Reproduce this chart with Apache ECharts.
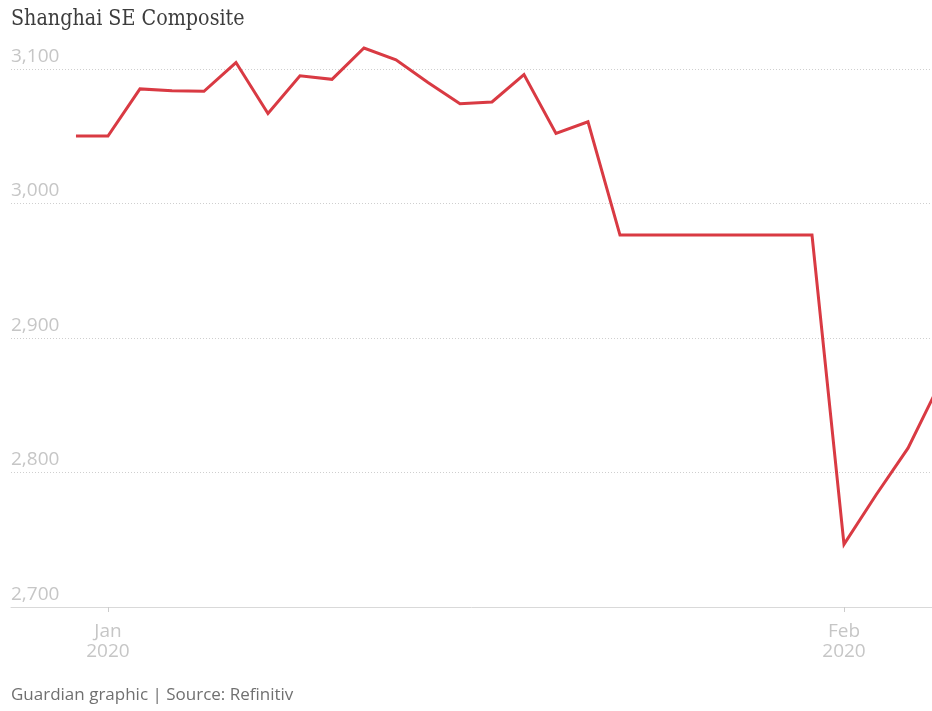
<!DOCTYPE html>
<html>
<head>
<meta charset="utf-8">
<title>Shanghai SE Composite</title>
<script src="https://cdn.jsdelivr.net/npm/echarts@6/dist/echarts.min.js"></script>
<style>
  html, body { margin: 0; padding: 0; background: #fff; overflow: hidden; }
  #chart { width: 932px; height: 711px; }
</style>
</head>
<body>
<div id="chart"></div>
<script>
// Trading-day dates (weekdays; holidays carry the previous close)
const dates = [
  '2019-12-31', '2020-01-01', '2020-01-02', '2020-01-03',
  '2020-01-06', '2020-01-07', '2020-01-08', '2020-01-09', '2020-01-10',
  '2020-01-13', '2020-01-14', '2020-01-15', '2020-01-16', '2020-01-17',
  '2020-01-20', '2020-01-21', '2020-01-22', '2020-01-23', '2020-01-24',
  '2020-01-27', '2020-01-28', '2020-01-29', '2020-01-30', '2020-01-31',
  '2020-02-03', '2020-02-04', '2020-02-05', '2020-02-06'
];

// Index close
const closes = [
  3050.1, 3050.1, 3085.2, 3083.8,
  3083.4, 3104.8, 3066.9, 3094.9, 3092.3,
  3115.6, 3106.8, 3090.0, 3074.1, 3075.5,
  3095.8, 3052.1, 3060.8, 2976.5, 2976.5,
  2976.5, 2976.5, 2976.5, 2976.5, 2976.5,
  2746.6, 2783.3, 2818.1, 2866.5
];

// Month ticks on the x axis
const monthTickDates = ['2020-01-01', '2020-02-03'];
const monthTickLabels = ['Jan\n2020', 'Feb\n2020'];

// Y axis ticks
const yTicks = [2700, 2800, 2900, 3000, 3100];

const seriesData = dates.map((d, i) => [i, closes[i]]);
const tickIdx = monthTickDates.map(d => dates.indexOf(d));

const chart = echarts.init(document.getElementById('chart'), null, { renderer: 'canvas' });

const labelGrey = '#c6c6c6';

chart.setOption({
  animation: false,
  backgroundColor: '#fff',
  title: {
    text: 'Guardian graphic | Source: Refinitiv',
    left: 11,
    top: 687,
    padding: 0,
    textStyle: {
      fontFamily: 'Open Sans',
      fontWeight: 'normal',
      fontSize: 17,
      color: '#707070'
    }
  },
  graphic: [
    {
      // headline, set slightly condensed
      type: 'text',
      x: 11,
      y: 8,
      scaleX: 0.87,
      scaleY: 1,
      silent: true,
      style: {
        text: 'Shanghai SE Composite',
        fontFamily: 'DejaVu Serif',
        fontWeight: 'normal',
        fontSize: 22,
        fill: '#3d3d3d',
        textVerticalAlign: 'top'
      }
    }
  ],
  grid: {
    left: 11,
    right: 0,
    top: 28.65,
    bottom: 104,
    containLabel: false
  },
  xAxis: {
    type: 'value',
    min: -2.03,
    max: 26.75,
    splitLine: { show: false },
    axisLine: { show: true, onZero: false, lineStyle: { color: '#d9d9d9', width: 1 } },
    axisTick: {
      show: true,
      customValues: tickIdx,
      length: 5,
      lineStyle: { color: '#cccccc', width: 1 }
    },
    axisLabel: {
      customValues: tickIdx,
      formatter: v => monthTickLabels[tickIdx.indexOf(Math.round(v))] || '',
      fontFamily: 'Open Sans',
      fontSize: 19,
      lineHeight: 20,
      color: labelGrey,
      margin: 15
    }
  },
  yAxis: {
    type: 'value',
    min: 2700,
    max: 3130,
    interval: 100,
    axisLine: { show: false },
    axisTick: { show: false },
    splitLine: {
      show: true,
      showMinLine: false,
      showMaxLine: false,
      lineStyle: { color: '#cfcfcf', type: [1, 2], width: 1 }
    },
    axisLabel: {
      inside: true,
      margin: 0,
      showMaxLabel: false,
      verticalAlign: 'bottom',
      padding: [0, 0, 3, 0],
      formatter: v => yTicks.includes(v) ? v.toLocaleString('en-US') : '',
      fontFamily: 'Open Sans',
      fontSize: 19,
      color: labelGrey
    }
  },
  series: [
    {
      type: 'line',
      data: seriesData,
      clip: true,
      symbol: 'none',
      lineStyle: { color: '#d93a43', width: 3, join: 'miter' },
      silent: true
    }
  ]
});
</script>
</body>
</html>
